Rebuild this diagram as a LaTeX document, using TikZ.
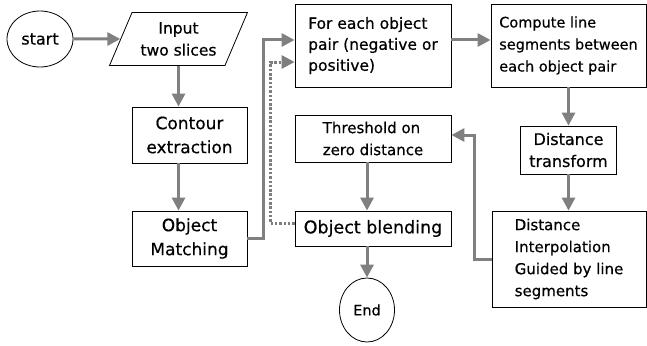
\documentclass[tikz,border=0pt]{standalone}
\usepackage{fontspec}
\setmainfont{DejaVu Sans}[FakeBold=0.5]
\usetikzlibrary{arrows.meta,shapes.geometric}
\definecolor{arrowgray}{RGB}{128,128,128}
\definecolor{dotgray}{RGB}{125,125,125}
\begin{document}
\begin{tikzpicture}[x=1pt,y=-1pt,
  box/.style={draw=black, line width=0.8pt, rectangle, inner sep=0pt, align=left},
  cbox/.style={box, align=center},
  flow/.style={draw=arrowgray, line width=3pt, -{Triangle[length=13pt,width=13pt]}},
  dotflow/.style={flow, draw=dotgray, dash pattern=on 2.5pt off 1.8pt},
  fs/.style 2 args={font=\fontsize{#1}{#2}\selectfont}
]
\useasboundingbox (0,0) rectangle (647,345);

\node[ellipse, draw=black, line width=0.8pt, inner sep=0pt, minimum width=66pt, minimum height=56pt, fs={16}{19}] (start) at (40,39) {start};
\node[trapezium, trapezium left angle=62, trapezium right angle=118, trapezium stretches=true, draw=black, line width=0.8pt, inner sep=1pt, minimum width=138pt, minimum height=53pt, align=center, fs={15.5}{22}] (input) at (178.5,39) {Input\\two slices};
\node[cbox, minimum width=115pt, minimum height=56pt, fs={17}{24}] (contour) at (189.5,135) {Contour\\extraction};
\node[cbox, minimum width=115pt, minimum height=55pt, fs={17}{24}] (matching) at (189.5,238.5) {Object\\Matching};
\node[box, minimum width=156pt, minimum height=83pt, fs={15.5}{21}] (for) at (373,45.5) {For each object\\pair (negative or\\positive)};
\node[box, minimum width=155pt, minimum height=83pt, fs={14.5}{22}] (compute) at (568.5,45.5) {Compute line\\segments between\\each object pair};
\node[cbox, minimum width=96pt, minimum height=48pt, fs={16}{22}] (dt) at (568.5,150) {Distance\\transform};
\node[box, minimum width=154pt, minimum height=96pt, fs={15}{22}] (di) at (569,259) {Distance\\Interpolation\\Guided by line\\segments};
\node[box, minimum width=156pt, minimum height=47pt, fs={15}{22}] (thr) at (373,138.5) {Threshold on\\zero distance};
\node[cbox, minimum width=156pt, minimum height=35pt, fs={17.5}{21}] (blend) at (373,228.5) {Object blending};
\node[ellipse, draw=black, line width=0.8pt, inner sep=0pt, minimum width=55pt, minimum height=64pt, fs={14.5}{18}] (end) at (367,310) {End};

\draw[flow] (start.east) -- (input.west);
\draw[flow] (input.south) -- (input.south |- contour.north);
\draw[flow] (input.south |- contour.south) -- (input.south |- matching.north);
\draw[flow] (matching.east) -- ++(16,0) |- ([yshift=5.5pt]for.west);
\draw[dotflow] ([yshift=5pt]blend.west) -- ++(-24,0) |- ([yshift=-16.5pt]for.west);
\draw[flow] ([yshift=5.5pt]for.east) -- ([yshift=5.5pt]compute.west);
\draw[flow] (compute.south) -- (dt.north);
\draw[flow] (dt.south) -- (dt.south |- di.north);
\draw[flow] (di.west) -- ++(-17,0) |- ([yshift=3.5pt]thr.east);
\draw[flow] ([xshift=-6pt]thr.south) -- ([xshift=-6pt]blend.north);
\draw[flow] ([xshift=-6pt]blend.south) -- (end.north);
\end{tikzpicture}
\end{document}
